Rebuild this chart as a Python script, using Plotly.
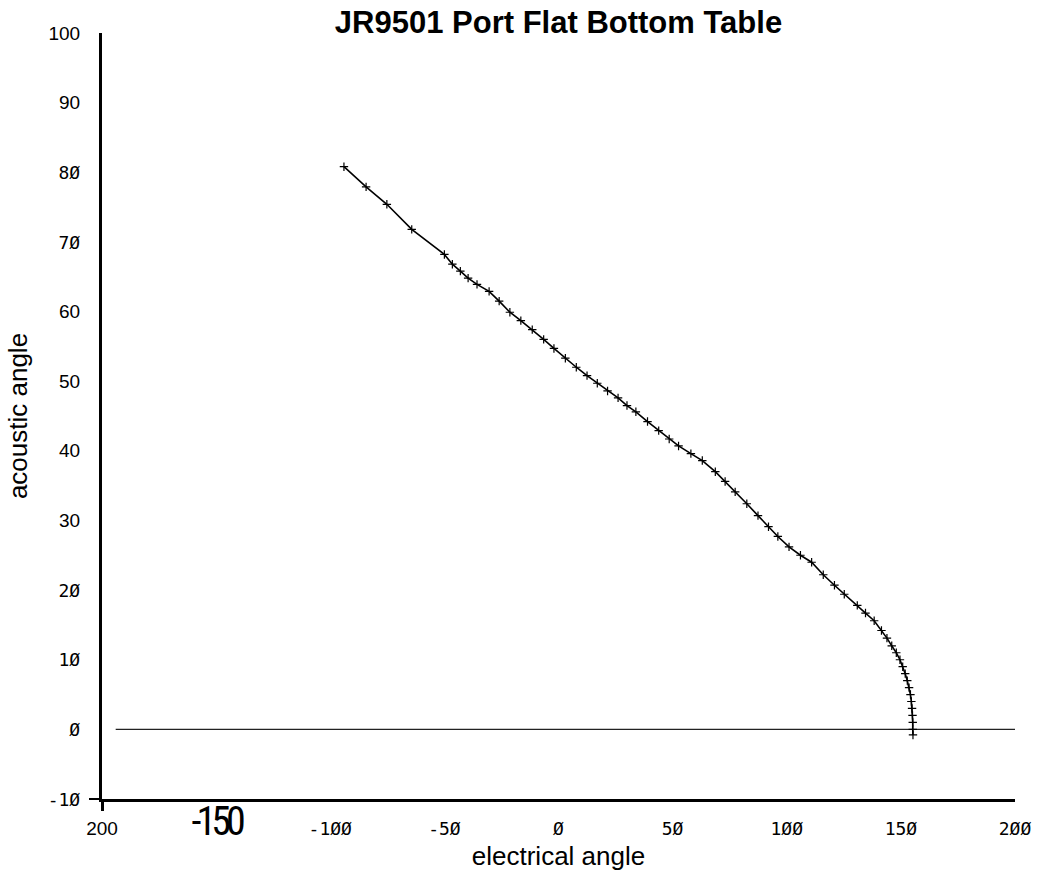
import plotly.graph_objects as go

# Port flat-bottom lookup table: electrical angle (deg) -> acoustic angle (deg)
electrical_angle = [
    -94.0, -84.3, -75.2, -64.3, -50.0, -46.5, -43.0, -39.6, -35.7, -30.4,
    -26.0, -21.3, -16.5, -11.5, -6.5, -2.0, 3.0, 7.8, 12.5, 17.0,
    21.5, 26.1, 30.0, 33.9, 39.0, 43.9, 48.5, 52.6, 58.0, 63.0,
    68.7, 73.0, 77.4, 82.5, 87.4, 92.0, 96.1, 101.0, 106.0, 110.9,
    116.0, 120.9, 125.2, 130.9, 134.5, 138.3, 141.5, 143.9, 146.0, 148.0,
    149.6, 150.8, 151.9, 152.8, 153.6, 154.2, 154.6, 154.9, 155.1, 155.2,
    155.2, 155.3,
]
acoustic_angle = [
    80.8, 77.9, 75.4, 71.8, 68.2, 66.8, 65.8, 64.8, 63.9, 62.9,
    61.5, 59.9, 58.7, 57.4, 56.0, 54.7, 53.3, 52.0, 50.8, 49.7,
    48.6, 47.6, 46.5, 45.6, 44.2, 42.9, 41.7, 40.7, 39.6, 38.6,
    37.0, 35.6, 34.1, 32.4, 30.7, 29.1, 27.7, 26.2, 25.0, 24.0,
    22.2, 20.7, 19.4, 17.8, 16.7, 15.6, 14.2, 13.1, 12.0, 11.0,
    10.0, 9.0, 8.0, 7.0, 6.0, 5.0, 4.0, 3.0, 2.0, 1.0,
    0.0, -0.8,
]

# Zero reference line of the table
baseline_x = [-194, 200]
baseline_y = [0, 0]

SANS = "Liberation Sans, Arial, sans-serif"
MONO = "DejaVu Sans Mono, Liberation Mono, monospace"
NARROW = ("Roboto Condensed, Liberation Sans Narrow, DejaVu Sans Condensed, "
          "Open Sans Condensed, Roboto, sans-serif")

x_tickvals = [-200, -150, -100, -50, 0, 50, 100, 150, 200]
x_ticktext = ["200", "-150", "-1ØØ", "-5Ø", "Ø", "5Ø", "1ØØ", "15Ø", "2ØØ"]
x_tickfont = ["sans", "narrow", "mono", "mono", "mono", "mono", "mono", "mono", "mono"]

y_tickvals = [-10, 0, 10, 20, 30, 40, 50, 60, 70, 80, 90, 100]
y_ticktext = ["-1Ø", "Ø", "1Ø", "2Ø", "30", "40", "50", "60", "7Ø", "8Ø", "90", "100"]
y_tickfont = ["mono", "mono", "mono", "mono", "sans", "sans", "sans", "sans",
              "mono", "mono", "sans", "sans"]

FONT_STYLE = {
    "sans": f"font-family:{SANS};font-size:19px",
    "mono": f"font-family:{MONO};font-size:18px",
    "narrow": (f"font-family:{NARROW};font-size:40px;font-stretch:condensed;"
               "letter-spacing:-5px"),
}


def styled(labels, kinds):
    return [f'<span style="{FONT_STYLE[k]}">{t}</span>' for t, k in zip(labels, kinds)]


fig = go.Figure()

fig.add_trace(go.Scatter(
    x=baseline_x, y=baseline_y, mode="lines",
    line=dict(color="#222222", width=1.3),
    hoverinfo="skip", showlegend=False,
))

fig.add_trace(go.Scatter(
    x=electrical_angle, y=acoustic_angle, mode="lines+markers",
    line=dict(color="black", width=1.6),
    marker=dict(symbol="cross-thin", size=6, line=dict(color="black", width=1.2)),
    showlegend=False,
))

fig.update_layout(
    width=1043, height=879,
    margin=dict(l=102, r=19, t=33, b=78),
    paper_bgcolor="white", plot_bgcolor="white",
    font=dict(family=SANS, color="black", size=18),
    title=dict(
        text="<b>JR9501 Port Flat Bottom Table</b>",
        font=dict(family=SANS, size=31, color="black"),
        x=0.5, xref="paper", xanchor="center",
        y=1 - 22 / 879, yref="container", yanchor="middle",
    ),
)

fig.update_xaxes(
    range=[-200, 200], showgrid=False, zeroline=False,
    showline=True, linecolor="black", linewidth=3,
    tickmode="array", tickvals=x_tickvals, ticktext=styled(x_ticktext, x_tickfont),
    ticks="", ticklabelstandoff=11,
    tickfont=dict(family=MONO, size=18, color="black"),
    minor=dict(tickmode="array", tickvals=[-200], ticks="outside",
               ticklen=9, tickwidth=3, tickcolor="black"),
    title=dict(text="electrical angle", font=dict(family=SANS, size=26), standoff=4),
)

fig.update_yaxes(
    range=[-10, 100], showgrid=False, zeroline=False,
    showline=True, linecolor="black", linewidth=3,
    tickmode="array", tickvals=y_tickvals, ticktext=styled(y_ticktext, y_tickfont),
    ticks="", ticklabelstandoff=15,
    tickfont=dict(family=SANS, size=19, color="black"),
    minor=dict(tickmode="array", tickvals=[-10], ticks="outside",
               ticklen=10, tickwidth=2, tickcolor="black"),
    title=dict(text="acoustic angle", font=dict(family=SANS, size=26), standoff=13),
)

fig.write_html("out.html")
